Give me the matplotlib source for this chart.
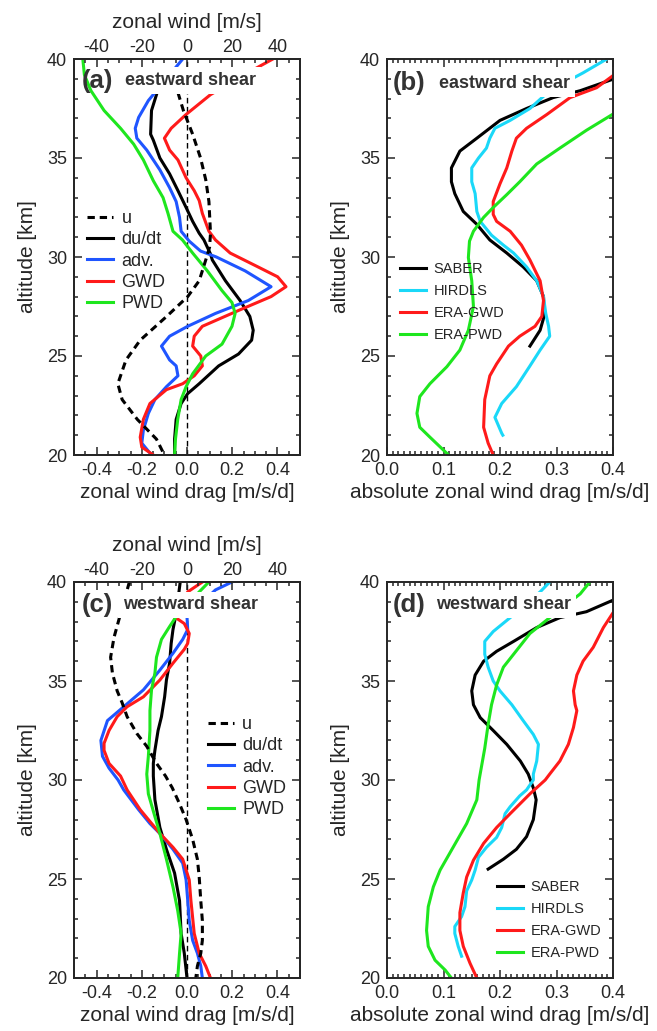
import matplotlib
matplotlib.use("Agg")
import matplotlib.pyplot as plt
from matplotlib.ticker import MultipleLocator

plt.rcParams["font.family"] = ["Liberation Sans", "DejaVu Sans"]
plt.rcParams["axes.unicode_minus"] = False
TEXT = "#262626"

BLACK = "#000000"
BLUE = "#1f55ff"
RED = "#ff1a1a"
GREEN = "#1ee61e"
CYAN = "#1ad8f8"

# ---------------- panel (a): eastward shear ----------------
A_U_ALT = [38.3, 37.4, 36.2, 35.0, 33.9, 32.8, 31.2, 30.5, 29.85, 28.8, 28.0, 27.0, 25.8, 24.8, 23.6, 22.8, 21.8, 20.8, 20.0]
A_U = [-4, -1.6, 2.5, 6.0, 8.3, 9.7, 10.4, 10.0, 8.3, 5.4, 0.3, -9.0, -20.7, -27.0, -30.6, -28.7, -22.0, -13.5, -10.0]

A_DUDT_ALT = [38.2, 37.4, 36.2, 35.9, 35.0, 34.2, 33.35, 32.5, 31.8, 31.2, 30.86, 30.15, 29.85, 28.8, 27.8, 27.0, 26.3, 25.8, 25.1, 24.5, 23.6, 23.1, 22.6, 21.8, 20.8, 20.0]
A_DUDT = [-0.135, -0.157, -0.161, -0.149, -0.12, -0.077, -0.04, -0.004, 0.025, 0.054, 0.075, 0.104, 0.112, 0.17, 0.235, 0.278, 0.293, 0.286, 0.228, 0.14, 0.054, 0.003, -0.026, -0.048, -0.055, -0.055]

A_ADV_ALT = [40.0, 39.2, 37.9, 37.05, 36.5, 36.0, 35.4, 34.4, 33.5, 32.8, 32.0, 31.3, 30.8, 30.3, 30.0, 29.3, 28.5, 27.8, 27.15, 26.5, 26.0, 25.5, 24.8, 24.5, 24.0, 23.45, 22.8, 22.1, 21.26, 20.6, 20.0]
A_ADV = [-0.019, -0.077, -0.171, -0.214, -0.229, -0.222, -0.178, -0.12, -0.077, -0.048, -0.033, -0.026, 0.01, 0.06, 0.13, 0.257, 0.372, 0.271, 0.126, 0.003, -0.077, -0.113, -0.077, -0.048, -0.04, -0.091, -0.142, -0.171, -0.193, -0.2, -0.157]

A_GWD_ALT = [40.0, 39.5, 38.2, 37.2, 36.5, 36.0, 35.4, 34.9, 34.0, 33.35, 32.85, 32.2, 31.3, 30.86, 30.2, 29.5, 29.0, 28.5, 28.0, 27.3, 26.5, 26.0, 25.5, 25.0, 24.5, 24.0, 23.6, 23.3, 22.6, 21.8, 20.9, 20.4, 20.0]
A_GWD = [0.38, 0.30, 0.104, -0.004, -0.07, -0.10, -0.077, -0.04, -0.004, 0.032, 0.054, 0.068, 0.097, 0.126, 0.191, 0.314, 0.401, 0.438, 0.372, 0.228, 0.068, 0.032, 0.025, 0.061, 0.068, 0.032, -0.019, -0.091, -0.164, -0.193, -0.207, -0.2, -0.149]

A_PWD_ALT = [40.0, 39.2, 38.4, 37.4, 36.5, 35.7, 34.9, 33.85, 33.0, 32.2, 31.3, 30.86, 30.2, 29.3, 28.3, 27.7, 27.15, 26.5, 25.6, 25.0, 24.1, 23.45, 22.8, 21.8, 20.8, 20.0]
A_PWD = [-0.461, -0.454, -0.425, -0.367, -0.294, -0.236, -0.193, -0.149, -0.106, -0.084, -0.062, -0.02, 0.025, 0.09, 0.155, 0.199, 0.213, 0.199, 0.155, 0.083, 0.025, -0.004, -0.026, -0.041, -0.051, -0.055]

# ---------------- panel (b): eastward shear, absolute drag ----------------
B_SABER_ALT = [38.97, 38.4, 38.05, 37.5, 36.9, 36.0, 35.35, 34.5, 33.8, 33.2, 32.3, 31.65, 30.86, 30.2, 29.5, 28.8, 28.0, 27.0, 26.3, 25.5]
B_SABER = [0.399, 0.342, 0.294, 0.247, 0.2, 0.159, 0.129, 0.114, 0.114, 0.12, 0.135, 0.159, 0.182, 0.212, 0.241, 0.265, 0.277, 0.278, 0.271, 0.253]

B_HIRDLS_ALT = [40.0, 39.3, 38.4, 37.5, 36.9, 36.5, 36.0, 35.5, 35.0, 34.5, 33.8, 33.2, 32.3, 31.8, 31.1, 30.6, 30.2, 29.5, 28.8, 28.0, 27.15, 26.5, 26.0, 25.3, 24.5, 23.45, 22.6, 21.9, 21.1, 21.0]
B_HIRDLS = [0.389, 0.347, 0.288, 0.253, 0.218, 0.191, 0.182, 0.176, 0.162, 0.15, 0.15, 0.156, 0.159, 0.165, 0.185, 0.206, 0.224, 0.247, 0.265, 0.277, 0.281, 0.286, 0.288, 0.271, 0.253, 0.229, 0.203, 0.191, 0.203, 0.205]

B_GWD_ALT = [39.14, 38.55, 38.05, 37.2, 36.5, 36.0, 35.35, 34.5, 33.7, 32.8, 32.15, 31.8, 31.3, 30.6, 29.85, 28.8, 27.8, 27.0, 26.5, 26.0, 25.5, 24.6, 24.0, 22.8, 21.4, 20.6, 20.0]
B_GWD = [0.399, 0.371, 0.324, 0.283, 0.247, 0.229, 0.221, 0.212, 0.2, 0.188, 0.188, 0.194, 0.218, 0.238, 0.253, 0.271, 0.277, 0.274, 0.262, 0.235, 0.215, 0.194, 0.182, 0.173, 0.171, 0.179, 0.188]

B_PWD_ALT = [37.2, 36.4, 35.5, 34.7, 33.8, 33.15, 32.5, 32.0, 31.3, 30.8, 29.97, 28.8, 27.5, 26.3, 25.3, 24.46, 23.6, 22.95, 22.1, 21.4, 20.9, 20.0]
B_PWD = [0.399, 0.353, 0.306, 0.265, 0.235, 0.212, 0.188, 0.171, 0.153, 0.146, 0.144, 0.15, 0.153, 0.144, 0.129, 0.106, 0.076, 0.058, 0.053, 0.058, 0.076, 0.109]

# ---------------- panel (c): westward shear ----------------
C_U_ALT = [40.0, 38.4, 37.2, 36.2, 35.4, 34.5, 33.9, 33.2, 32.35, 31.7, 30.84, 30.2, 29.6, 28.8, 28.0, 27.0, 26.0, 25.1, 23.9, 22.9, 21.9, 21.25, 20.6, 20.0]
C_U = [-25.5, -29.4, -32.3, -33.8, -33.0, -30.9, -28.7, -26.5, -22.2, -17.8, -13.5, -9.5, -6.5, -3.3, -0.4, 2.5, 4.6, 5.4, 6.1, 6.8, 6.8, 6.1, 4.6, 3.9]

C_DUDT_ALT = [40.0, 38.4, 37.6, 36.9, 35.9, 35.05, 34.2, 33.2, 32.5, 31.5, 30.84, 30.2, 29.0, 27.6, 26.5, 25.3, 23.9, 22.25, 21.25, 20.0]
C_DUDT = [-0.03, -0.048, -0.062, -0.07, -0.077, -0.091, -0.099, -0.113, -0.128, -0.142, -0.149, -0.149, -0.142, -0.12, -0.091, -0.055, -0.033, -0.026, -0.012, 0.0]

C_ADV_ALT = [40.0, 39.6, 38.25, 37.6, 37.1, 36.4, 35.55, 34.55, 33.7, 33.0, 32.0, 31.2, 30.6, 30.0, 29.5, 28.5, 27.8, 27.3, 26.5, 25.8, 24.95, 23.95, 22.9, 21.9, 21.25, 20.6, 20.0]
C_ADV = [0.199, 0.126, 0.0, 0.003, -0.019, -0.062, -0.12, -0.193, -0.28, -0.352, -0.381, -0.374, -0.345, -0.305, -0.28, -0.214, -0.164, -0.12, -0.062, -0.019, -0.004, 0.003, 0.01, 0.025, 0.046, 0.061, 0.068]

C_GWD_ALT = [40.0, 39.5, 38.2, 37.9, 37.4, 36.9, 36.6, 35.9, 35.05, 34.2, 33.7, 33.2, 32.5, 31.85, 31.5, 30.84, 30.2, 29.5, 28.5, 27.3, 26.6, 26.0, 24.95, 23.95, 22.25, 21.25, 20.6, 20.0]
C_GWD = [0.068, 0.003, -0.05, -0.012, 0.01, 0.003, -0.012, -0.062, -0.12, -0.193, -0.265, -0.309, -0.345, -0.367, -0.367, -0.345, -0.294, -0.265, -0.207, -0.12, -0.062, -0.019, 0.01, 0.017, 0.032, 0.054, 0.083, 0.104]

C_PWD_ALT = [40.0, 39.5, 38.25, 37.75, 37.1, 36.2, 35.4, 34.55, 33.5, 32.5, 31.2, 30.3, 29.3, 28.15, 27.3, 26.0, 24.6, 23.4, 22.25, 21.25, 20.0]
C_PWD = [0.097, 0.054, -0.048, -0.077, -0.113, -0.135, -0.142, -0.157, -0.164, -0.164, -0.171, -0.178, -0.171, -0.142, -0.12, -0.091, -0.062, -0.041, -0.026, -0.033, -0.041]

# ---------------- panel (d): westward shear, absolute drag ----------------
D_SABER_ALT = [39.07, 38.5, 38.2, 37.7, 37.0, 36.5, 36.0, 35.3, 34.5, 33.8, 33.15, 32.5, 31.8, 30.96, 30.3, 29.6, 29.0, 28.0, 27.14, 26.5, 26.0, 25.5]
D_SABER = [0.399, 0.353, 0.306, 0.265, 0.224, 0.194, 0.171, 0.156, 0.15, 0.153, 0.165, 0.188, 0.212, 0.236, 0.25, 0.259, 0.264, 0.259, 0.247, 0.229, 0.206, 0.179]

D_HIRDLS_ALT = [40.0, 39.5, 38.2, 37.5, 37.0, 36.35, 35.7, 35.0, 34.5, 33.8, 33.0, 32.3, 31.8, 30.96, 30.3, 30.0, 29.5, 29.2, 28.65, 28.3, 27.6, 27.1, 26.6, 26.1, 25.45, 24.95, 24.4, 23.6, 23.1, 22.6, 22.25, 21.6, 21.1]
D_HIRDLS = [0.288, 0.271, 0.218, 0.188, 0.173, 0.173, 0.179, 0.188, 0.2, 0.221, 0.241, 0.259, 0.268, 0.265, 0.259, 0.259, 0.247, 0.235, 0.218, 0.209, 0.203, 0.194, 0.176, 0.162, 0.156, 0.15, 0.141, 0.138, 0.132, 0.12, 0.12, 0.126, 0.132]

D_GWD_ALT = [38.4, 37.7, 36.7, 36.0, 35.3, 34.5, 33.8, 33.5, 32.65, 31.8, 30.96, 30.3, 30.0, 29.3, 28.3, 27.6, 26.8, 25.95, 25.1, 24.3, 23.3, 22.4, 21.6, 20.74, 20.0]
D_GWD = [0.399, 0.383, 0.365, 0.347, 0.336, 0.33, 0.333, 0.336, 0.33, 0.321, 0.306, 0.288, 0.28, 0.253, 0.218, 0.194, 0.171, 0.153, 0.141, 0.135, 0.129, 0.129, 0.135, 0.147, 0.159]

D_PWD_ALT = [40.0, 39.4, 38.2, 37.4, 36.35, 35.7, 34.8, 33.8, 32.8, 31.6, 30.8, 30.0, 29.0, 27.8, 26.6, 25.45, 24.6, 23.6, 22.4, 21.6, 20.9, 20.4, 20.0]
D_PWD = [0.359, 0.342, 0.288, 0.253, 0.224, 0.206, 0.194, 0.185, 0.179, 0.173, 0.168, 0.163, 0.159, 0.141, 0.117, 0.094, 0.082, 0.073, 0.07, 0.073, 0.085, 0.103, 0.114]

LW = 2.2
TICK_FS = 13
LABEL_FS = 15


def style_axes(ax, xlim, xmajor, xminor, top_ticks=True):
    ax.set_xlim(*xlim)
    ax.set_ylim(20, 40)
    ax.xaxis.set_major_locator(MultipleLocator(xmajor))
    ax.xaxis.set_minor_locator(MultipleLocator(xminor))
    ax.yaxis.set_major_locator(MultipleLocator(5))
    ax.yaxis.set_minor_locator(MultipleLocator(1))
    ax.tick_params(which="both", direction="in", top=top_ticks, right=True,
                   labelsize=TICK_FS, colors=TEXT, pad=5, width=1.1)
    ax.tick_params(which="major", length=6)
    ax.tick_params(which="minor", length=3)
    for s in ax.spines.values():
        s.set_linewidth(1.4)
        s.set_color(TEXT)
    ax.set_ylabel("altitude [km]", fontsize=LABEL_FS, color=TEXT, labelpad=7)


def panel_label(ax, letter, text, x_text, y):
    ax.text(0.035 if letter in "ac" else 0.027, y, f"({letter})", transform=ax.transAxes,
            fontsize=18.5, fontweight="bold", color="#333333", va="center", ha="left", zorder=10)
    ax.text(x_text, y, text, transform=ax.transAxes, fontsize=13, fontweight="bold",
            color="#333333", va="center", ha="left", zorder=10,
            bbox=dict(facecolor="white", edgecolor="none", pad=3.5))


def drag_panel(ax, u_alt, u, dudt_alt, dudt, adv_alt, adv, gwd_alt, gwd, pwd_alt, pwd,
               letter, title, legend_xy):
    style_axes(ax, (-0.5, 0.5), 0.2, 0.05, top_ticks=False)
    ax.xaxis.set_major_formatter(plt.FuncFormatter(lambda v, p: f"{v:.1f}"))
    ax.axvline(0, color="k", lw=1.0, dashes=(4, 2.5), zorder=1)
    l1, = ax.plot(dudt, dudt_alt, color=BLACK, lw=LW, label="du/dt")
    l2, = ax.plot(adv, adv_alt, color=BLUE, lw=LW, label="adv.")
    l3, = ax.plot(gwd, gwd_alt, color=RED, lw=LW, label="GWD")
    l4, = ax.plot(pwd, pwd_alt, color=GREEN, lw=LW, label="PWD")
    ax.set_xlabel("zonal wind drag [m/s/d]", fontsize=LABEL_FS, color=TEXT, labelpad=3)

    # top axis: zonal wind in m/s
    ax2 = ax.twiny()
    ax2.set_xlim(-50, 50)
    ax2.set_ylim(20, 40)
    ax2.xaxis.set_major_locator(MultipleLocator(20))
    ax2.xaxis.set_minor_locator(MultipleLocator(5))
    ax2.tick_params(which="both", direction="in", labelsize=TICK_FS, colors=TEXT, pad=2, width=1.1)
    ax2.tick_params(which="major", length=6)
    ax2.tick_params(which="minor", length=3)
    for s in ax2.spines.values():
        s.set_linewidth(1.4)
        s.set_color(TEXT)
    l0, = ax2.plot(u, u_alt, color=BLACK, lw=LW, dashes=(2.4, 1.6), label="u")
    ax2.set_xlabel("zonal wind [m/s]", fontsize=LABEL_FS, color=TEXT, labelpad=8)

    ax2.legend(handles=[l0, l1, l2, l3, l4], loc="upper left", bbox_to_anchor=legend_xy,
               frameon=False, fontsize=13, handlelength=1.45, handletextpad=0.45,
               labelspacing=0.24, borderpad=0, borderaxespad=0, labelcolor=TEXT)
    panel_label(ax2, letter, title, 0.226 if letter == "a" else 0.217, 0.945 if letter == "a" else 0.942)


def abs_panel(ax, s_alt, s, h_alt, h, g_alt, g, p_alt, p, letter, title, legend_xy, ylab):
    style_axes(ax, (0, 0.4), 0.1, 0.01)
    ax.xaxis.set_major_formatter(plt.FuncFormatter(lambda v, p_: f"{v:.1f}"))
    ax.plot(s, s_alt, color=BLACK, lw=LW, label="SABER")
    ax.plot(h, h_alt, color=CYAN, lw=LW, label="HIRDLS")
    ax.plot(g, g_alt, color=RED, lw=LW, label="ERA-GWD")
    ax.plot(p, p_alt, color=GREEN, lw=LW, label="ERA-PWD")
    ax.set_xlabel("absolute zonal wind drag [m/s/d]", fontsize=LABEL_FS, color=TEXT, labelpad=3)
    ax.legend(loc="upper left", bbox_to_anchor=legend_xy, frameon=False, fontsize=10.5,
              handlelength=1.8, handletextpad=0.5, labelspacing=0.55, borderpad=0,
              borderaxespad=0, labelcolor=TEXT)
    panel_label(ax, letter, title, 0.230 if letter == "b" else 0.217, ylab)


fig = plt.figure(figsize=(6.57, 10.31), dpi=100)
W, H = 657, 1031
ax_a = fig.add_axes([74 / W, 1 - 455 / H, 226 / W, 396 / H])
ax_b = fig.add_axes([387 / W, 1 - 455 / H, 226 / W, 396 / H])
ax_c = fig.add_axes([74 / W, 1 - 978 / H, 226 / W, 396 / H])
ax_d = fig.add_axes([387 / W, 1 - 978 / H, 226 / W, 396 / H])

drag_panel(ax_a, A_U_ALT, A_U, A_DUDT_ALT, A_DUDT, A_ADV_ALT, A_ADV, A_GWD_ALT, A_GWD,
           A_PWD_ALT, A_PWD, "a", "eastward shear", (0.058, 0.619))
abs_panel(ax_b, B_SABER_ALT, B_SABER, B_HIRDLS_ALT, B_HIRDLS, B_GWD_ALT, B_GWD,
          B_PWD_ALT, B_PWD, "b", "eastward shear", (0.058, 0.487), 0.939)
drag_panel(ax_c, C_U_ALT, C_U, C_DUDT_ALT, C_DUDT, C_ADV_ALT, C_ADV, C_GWD_ALT, C_GWD,
           C_PWD_ALT, C_PWD, "c", "westward shear", (0.593, 0.662))
abs_panel(ax_d, D_SABER_ALT, D_SABER, D_HIRDLS_ALT, D_HIRDLS, D_GWD_ALT, D_GWD,
          D_PWD_ALT, D_PWD, "d", "westward shear", (0.487, 0.247), 0.942)

fig.savefig("out.png", dpi=100)
